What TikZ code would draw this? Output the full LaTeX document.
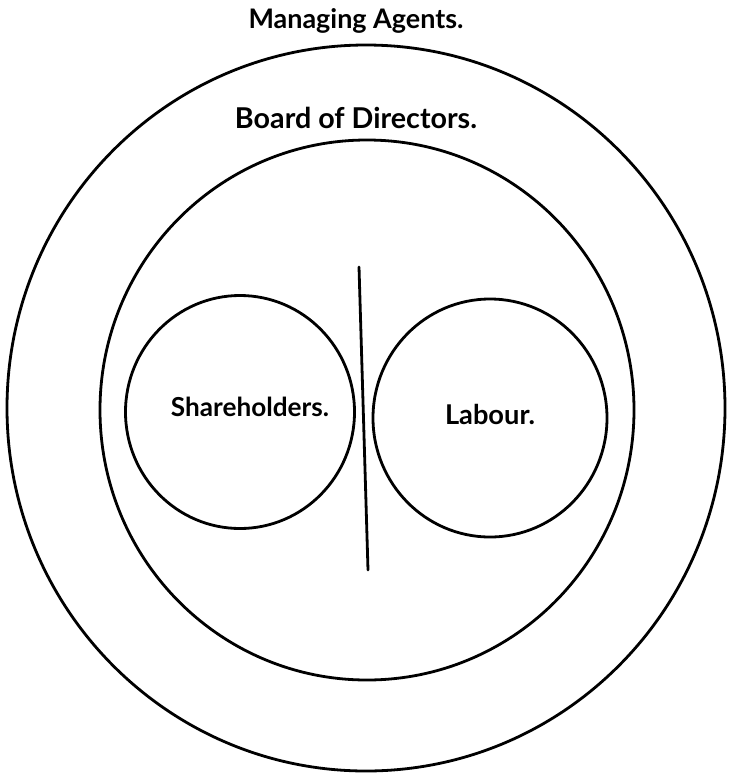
\documentclass[tikz,border=0pt]{standalone}
\usepackage{fontspec}
\setmainfont{Lato}
\usetikzlibrary{shapes.geometric}
\begin{document}
\begin{tikzpicture}[x=1pt,y=-1pt,
  ring/.style={draw=black, line width=2.8pt, ellipse, inner sep=0pt},
  lbl/.style={inner sep=0pt, font=\bfseries}]
\useasboundingbox (0,0) rectangle (729,774);
\node[ring, minimum width=718pt, minimum height=726pt] (outer) at (366,408) {};
\node[ring, minimum width=534pt, minimum height=540pt] (board) at (367,410) {};
\node[ring, minimum width=229pt, minimum height=233pt] (share) at (240,412) {};
\node[ring, minimum width=234pt, minimum height=238pt] (labour) at (490,418) {};
\node[lbl] (tshare) at (250,407) {\resizebox{158pt}{!}{Shareholders.}};
\node[lbl] (tlab) at (490,414) {\resizebox{90pt}{!}{Labour.}};
\node[lbl, anchor=base] (tma) at (356,28) {\resizebox{215pt}{!}{Managing Agents.}};
\node[lbl, anchor=base] (tbd) at (356,128) {\resizebox{242pt}{!}{Board of Directors.}};
\coordinate (ltop) at (359,267);
\coordinate (lbot) at (368,570);
\draw[line width=2.8pt, line cap=round] (ltop) -- (lbot);
\end{tikzpicture}
\end{document}
